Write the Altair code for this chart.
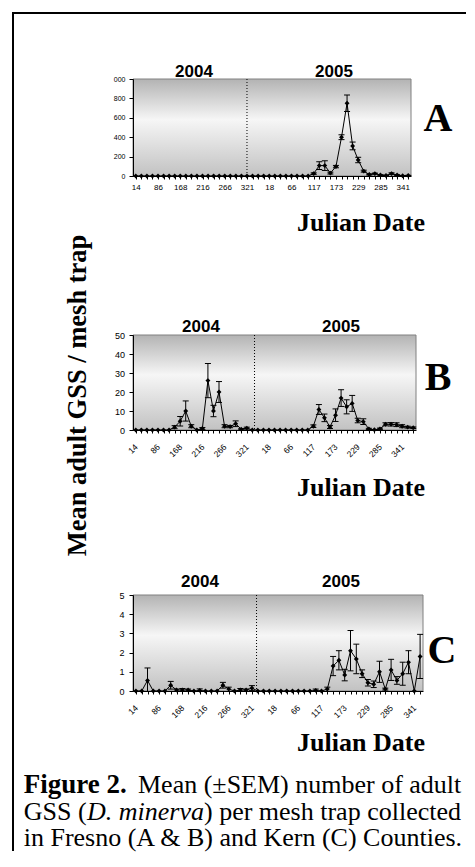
import altair as alt
import pandas as pd

# ---------------- data ----------------
x_tick_labels = ["14", "86", "168", "216", "266", "321", "18", "66", "117", "173", "229", "285", "341"]
year_labels = ["2004", "2005"]
panel_letters = ["A", "B", "C"]
x_title = "Julian Date"
y_title = "Mean adult GSS / mesh trap"

# Panel A (Fresno)
A_mean = [0, 0, 0, 0, 0, 0, 0, 0, 0, 0,
          0, 0, 0, 0, 0, 0, 0, 0, 0, 0,
          0, 0, 0, 0, 0, 0, 0, 0, 0, 0,
          0, 0, 25, 107, 107, 30, 97, 400, 750, 310,
          165, 50, 15, 25, 10, 5, 25, 10, 3, 5]
A_sem = [0, 0, 0, 0, 0, 0, 0, 0, 0, 0,
         0, 0, 0, 0, 0, 0, 0, 0, 0, 0,
         0, 0, 0, 0, 0, 0, 0, 0, 0, 0,
         0, 0, 8, 40, 50, 10, 12, 25, 85, 40,
         28, 10, 5, 5, 3, 2, 8, 3, 1, 2]
A_year_break = 20.0
A_y_ticks = [0, 200, 400, 600, 800, 1000]

# Panel B (Fresno)
B_mean = [0, 0, 0, 0, 0, 0, 0, 1.5, 4.6, 10,
          2, 0, 0.8, 26, 10, 20, 2, 1.8, 3.3, 0.4,
          1, 0, 0, 0, 0, 0, 0, 0, 0, 0,
          0, 0, 2, 10.8, 6.4, 1.6, 7.8, 16.8, 12.2, 14,
          5, 4.4, 0.6, 0.1, 0.6, 3, 3, 2.8, 2, 1.5,
          1.2]
B_sem = [0, 0, 0, 0, 0, 0, 0, 0.8, 2.5, 5.3,
         0.8, 0, 0.5, 9, 3, 5.5, 0.8, 0.6, 1.5, 0.3,
         0.5, 0, 0, 0, 0, 0, 0, 0, 0, 0,
         0, 0, 0.7, 2.6, 2, 0.8, 3.3, 4.4, 3.7, 4.2,
         1.2, 1.5, 0.3, 0.1, 0.4, 0.8, 0.9, 1, 0.8, 0.5,
         0.4]
B_year_break = 21.4
B_y_ticks = [0, 10, 20, 30, 40, 50]

# Panel C (Kern)
C_mean = [0, 0, 0.55, 0, 0, 0, 0.3, 0.05, 0.05, 0.05,
          0, 0.03, 0, 0, 0, 0.3, 0.1, 0, 0.05, 0.05,
          0.15, 0, 0, 0, 0, 0, 0, 0, 0, 0,
          0, 0.03, 0, 0.1, 1.3, 1.6, 0.83, 2.1, 1.67, 0.9,
          0.43, 0.35, 1.0, 0.1, 1.1, 0.55, 0.9, 1.5, 0, 1.8]
C_sem = [0, 0, 0.65, 0, 0, 0, 0.2, 0.05, 0.08, 0.05,
         0, 0.08, 0, 0, 0, 0.15, 0.1, 0, 0.08, 0.05,
         0.13, 0, 0, 0, 0, 0, 0, 0, 0, 0,
         0, 0.07, 0, 0.1, 0.5, 0.5, 0.3, 1.05, 0.77, 0.2,
         0.17, 0.17, 0.55, 0.05, 0.55, 0.2, 0.6, 0.6, 0, 1.15]
C_year_break = 20.8
C_y_ticks = [0, 1, 2, 3, 4, 5]

caption_1_bold = "Figure 2."
caption_1_rest = "Mean (\u00b1SEM) number of adult"
caption_2_a = "GSS ("
caption_2_italic = "D. minerva"
caption_2_b = ") per mesh trap collected"
caption_3 = "in Fresno (A & B) and Kern (C) Counties."

# ---------------- styling / layout ----------------
SERIF = "Liberation Serif"
SANS = "Liberation Sans"
BAND_W = 454
GRADIENT = {
    "gradient": "linear", "x1": 0, "y1": 0, "x2": 0, "y2": 1,
    "stops": [
        {"offset": 0, "color": "#b3b3b3"},
        {"offset": 0.42, "color": "#f6f6f6"},
        {"offset": 1, "color": "#c2c2c2"},
    ],
}


def x_label_expr():
    parts = [f"datum.value == {4 * i} ? '{lab}'" for i, lab in enumerate(x_tick_labels)]
    return " : ".join(parts) + " : ''"


def text_layer(text, x, y, size, font=SERIF, weight="bold", style="normal",
               align="center", angle=0, baseline="alphabetic", clip=False):
    return alt.Chart(pd.DataFrame({"t": [text]})).mark_text(
        font=font, fontSize=size, fontWeight=weight, fontStyle=style,
        align=align, baseline=baseline, angle=angle, color="black", clip=clip
    ).encode(text="t:N", x=alt.value(x), y=alt.value(y))


def panel(mean, sem, brk, yticks, band_h, px0, px1, py_top, py_bot, rotated,
          ylab_size, ylab_pad, year_x, year_y, letter, letter_x, letter_y, xt_y,
          ylab_expr=None, extra=()):
    n = len(mean)
    df = pd.DataFrame({"idx": list(range(n)), "mean": mean, "sem": sem})
    df["lo"] = (df["mean"] - df["sem"]).clip(lower=0)
    df["hi"] = df["mean"] + df["sem"]

    xscale = alt.Scale(domain=[-0.5, n - 0.5], nice=False, zero=False, range=[px0, px1])
    yscale = alt.Scale(domain=[yticks[0], yticks[-1]], nice=False, zero=True,
                       range=[py_bot, py_top])

    xaxis_kw = dict(title=None, values=list(range(n)), labelExpr=x_label_expr(),
                    labelOverlap=False, labelFlush=False, labelBound=False, grid=False,
                    tickSize=3, tickColor="black", domainColor="black", domainWidth=1,
                    labelFont=SANS, labelColor="black", zindex=1,
                    offset=py_bot - band_h)
    if rotated:
        xaxis_kw.update(labelAngle=315, labelAlign="right", labelBaseline="middle",
                        labelPadding=12, labelFontSize=8.5)
    else:
        xaxis_kw.update(labelAngle=0, labelAlign="center", labelBaseline="top",
                        labelPadding=4, labelFontSize=8)
    xaxis = alt.Axis(**xaxis_kw)

    yaxis_kw = dict(title=None, values=yticks, grid=False, tickSize=4, tickColor="black",
                    domainColor="black", domainWidth=1, labelFont=SANS,
                    labelFontSize=ylab_size, labelColor="black", labelPadding=ylab_pad,
                    zindex=1, offset=-px0)
    if ylab_expr:
        yaxis_kw["labelExpr"] = ylab_expr
    yaxis = alt.Axis(**yaxis_kw)

    X = alt.X("idx:Q", scale=xscale, axis=xaxis)
    base = alt.Chart(df)

    bg = alt.Chart(pd.DataFrame({"k": [0]})).mark_rect(
        fill=GRADIENT, stroke="#808080", strokeWidth=1
    ).encode(x=alt.value(px0), x2=alt.value(px1), y=alt.value(py_top), y2=alt.value(py_bot))

    sep = alt.Chart(pd.DataFrame({"brk": [brk]})).mark_rule(
        color="black", strokeDash=[1, 2], strokeWidth=1
    ).encode(x=alt.X("brk:Q", scale=xscale, axis=xaxis),
             y=alt.value(py_top), y2=alt.value(py_bot))

    err = base.transform_filter("datum.sem > 0").mark_rule(color="black", strokeWidth=1).encode(
        x=X, y=alt.Y("lo:Q", scale=yscale, axis=yaxis), y2="hi:Q")
    cap_hi = base.transform_filter("datum.sem > 0").mark_tick(
        orient="horizontal", color="black", thickness=1, size=6, opacity=1
    ).encode(x=X, y=alt.Y("hi:Q", scale=yscale, axis=yaxis))
    cap_lo = base.transform_filter("datum.sem > 0 && datum.mean - datum.sem > 0").mark_tick(
        orient="horizontal", color="black", thickness=1, size=6, opacity=1
    ).encode(x=X, y=alt.Y("lo:Q", scale=yscale, axis=yaxis))
    line = base.mark_line(color="black", strokeWidth=1).encode(
        x=X, y=alt.Y("mean:Q", scale=yscale, axis=yaxis))
    pts = base.mark_point(shape="diamond", filled=True, color="black", size=24, opacity=1).encode(
        x=X, y=alt.Y("mean:Q", scale=yscale, axis=yaxis))

    layers = [bg, sep, err, cap_hi, cap_lo, line, pts,
              text_layer(year_labels[0], year_x[0], year_y, 17, font=SANS),
              text_layer(year_labels[1], year_x[1], year_y, 17, font=SANS),
              text_layer(letter, letter_x, letter_y, 40),
              text_layer(x_title, 348, xt_y, 26)]
    layers += list(extra)
    return alt.layer(*layers).properties(width=BAND_W, height=band_h)


one = pd.DataFrame({"k": [0]})
frame = [
    alt.Chart(one).mark_rule(color="black", strokeWidth=2).encode(
        x=alt.value(0), y=alt.value(0), y2=alt.value(838)),
    alt.Chart(one).mark_rule(color="black", strokeWidth=2).encode(
        x=alt.value(-1), x2=alt.value(453), y=alt.value(0)),
]

# band A: page y 13..255
pA = panel(A_mean, A_sem, A_year_break, A_y_ticks, 242, 120, 398, 66, 163, False, 7, 4,
           (181, 321), 63.5, panel_letters[0], 425, 118, 218,
           ylab_expr="datum.value == 1000 ? '000' : datum.label", extra=frame)

# band B: page y 255..517
pB = panel(B_mean, B_sem, B_year_break, B_y_ticks, 262, 120, 403, 80, 175, True, 9, 4.5,
           (188, 328), 77, panel_letters[1], 425, 135, 241,
           extra=[text_layer(y_title, 65, 140.5, 26.5, angle=270, baseline="middle")])

# band C: page y 517..770
pC = panel(C_mean, C_sem, C_year_break, C_y_ticks, 253, 120, 410, 78, 174, True, 9, 5,
           (187, 328), 70, panel_letters[2], 429, 146, 234)

# band D: caption, page y 770..852
pD = alt.layer(
    text_layer(caption_1_bold, 10.7, 23, 27, align="left"),
    text_layer(caption_1_rest, 125, 23, 26, weight="normal", align="left"),
    text_layer(caption_2_a, 10.7, 49.5, 26, weight="normal", align="left"),
    text_layer(caption_2_italic, 74, 49.5, 26, weight="normal", style="italic", align="left"),
    text_layer(caption_2_b, 191, 49.5, 26, weight="normal", align="left"),
    text_layer(caption_3, 10.7, 76, 26, weight="normal", align="left"),
).properties(width=BAND_W, height=82)

chart = alt.vconcat(pA, pB, pC, pD, spacing=0, bounds="flush",
                    padding={"left": 3, "top": 4, "right": 0, "bottom": 0},
                    background="white").configure_view(stroke=None)

chart.save("out.html", embed_options={"renderer": "svg", "actions": False})
